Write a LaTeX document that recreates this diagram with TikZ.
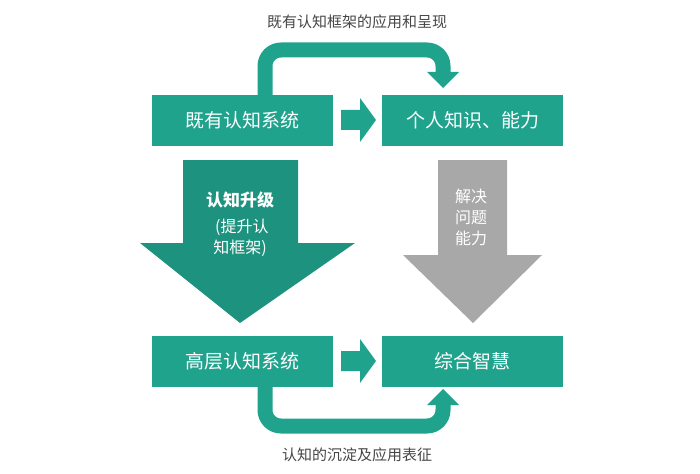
\documentclass[tikz,border=0pt]{standalone}
\usepackage{fontspec}
\setmainfont{Noto Sans CJK SC}
\definecolor{teal1}{RGB}{32,163,141}
\definecolor{gray1}{RGB}{168,168,168}
\definecolor{txt}{RGB}{70,70,70}
\begin{document}
\begin{tikzpicture}[x=1pt,y=-1pt,
  box/.style={fill=teal1,text=white,minimum width=181pt,minimum height=51pt,inner sep=0pt,font=\fontsize{19}{22}\selectfont},
  lbl/.style={text=txt,font=\fontsize{15}{18}\selectfont},
  band/.style={draw=teal1,line width=15pt,rounded corners=16pt}]
\useasboundingbox (0,0) rectangle (700,473);
\node[box] (a) at (242,120.5) {既有认知系统};
\node[box] (b) at (472.5,120.5) {个人知识、能力};
\node[box] (c) at (242,361.5) {高层认知系统};
\node[box] (d) at (472.5,361.5) {综合智慧};
\node[lbl] (t1) at (357,22) {既有认知框架的应用和呈现};
\node[lbl] (t2) at (357,455) {认知的沉淀及应用表征};
% small arrows
\fill[teal1] (341,110)--(360,110)--(360,98)--(376,120)--(360,142)--(360,130)--(341,130)--cycle;
\fill[teal1] (341,351)--(360,351)--(360,339)--(376,361)--(360,383)--(360,371)--(341,371)--cycle;
% top curved
\draw[band] (265,95) -- (265,50) -- (443,50) -- (443,73);
\fill[teal1] (427,72)--(459,72)--(443,88)--cycle;
% bottom curved
\draw[band] (265,387) -- (265,426) -- (443,426) -- (443,404);
\fill[teal1] (427,405)--(459,405)--(443,389)--cycle;
% big arrows
\fill[teal1!90!black] (183,160)--(298,160)--(298,243)--(355,243)--(240,323)--(140,243)--(183,243)--cycle;
\fill[gray1] (438,160)--(507,160)--(507,255)--(542,255)--(473,323)--(403,255)--(438,255)--cycle;
\node[text=white,align=center,font=\fontsize{17}{20}\selectfont] (u) at (240,200) {\bfseries 认知升级};
\node[text=white,align=center,font=\fontsize{16}{21}\selectfont] (v) at (240,238) {\ (提升认\\知框架)};
\node[text=white,align=center,font=\fontsize{16}{21}\selectfont] (w) at (471,217) {解决\\问题\\能力};
\end{tikzpicture}
\end{document}
